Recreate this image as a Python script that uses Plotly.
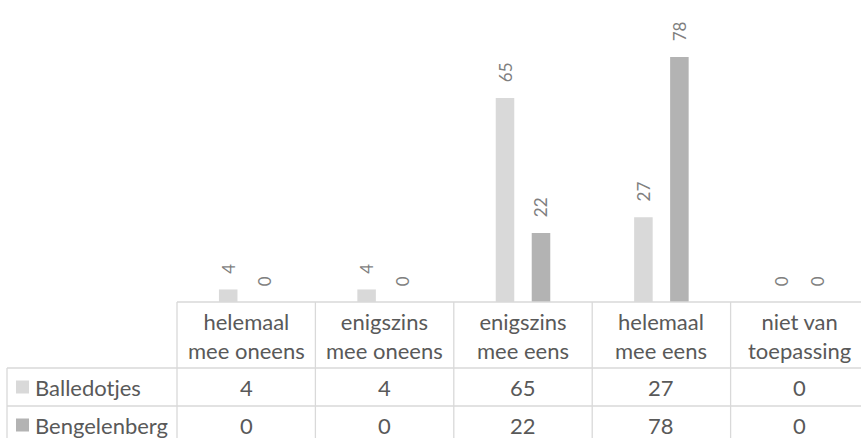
import plotly.graph_objects as go

# ---- data ----
categories = ["helemaal<br>mee oneens", "enigszins<br>mee oneens", "enigszins<br>mee eens",
              "helemaal<br>mee eens", "niet van<br>toepassing"]
series_names = ["Balledotjes", "Bengelenberg"]
balledotjes = [4, 4, 65, 27, 0]
bengelenberg = [0, 0, 22, 78, 0]
series_values = [balledotjes, bengelenberg]

# ---- styles ----
colors = ["#d9d9d9", "#b3b3b3"]
FONT = "Lato"
TSIZE = 22
W, H = 861, 438
PLOT_L, BASE_Y = 177, 302          # pixels
COL_W = 138.4                       # pixel width of one category
X0 = -0.5
X1 = X0 + (W - PLOT_L) / COL_W
Y1 = BASE_Y / 3.14                  # 3.14 px per unit
ROW_Y = [302, 368, 406, 444]        # table row boundaries (px)
TABLE_L = 7
GRID = "#d9d9d9"
TXT = "#595959"

def px(v):      # pixel -> paper x
    return v / W

def py(v):      # pixel -> paper y
    return 1 - v / H

def xdata_to_paper(v):
    return px(PLOT_L + (v - X0) * COL_W)

x_idx = list(range(len(categories)))

fig = go.Figure()
for name, vals, col in zip(series_names, series_values, colors):
    fig.add_trace(go.Bar(
        x=x_idx, y=vals, name=name,
        marker=dict(color=col, line=dict(width=0)),
        texttemplate="\u2003%{y}", textposition="outside", textangle=-90,
        constraintext="none", cliponaxis=False,
        textfont=dict(family=FONT, size=17, color="#7f7f7f"),
    ))

shapes = []
line = dict(color=GRID, width=1.3)
# horizontal table lines
shapes.append(dict(type="line", xref="paper", yref="paper",
                   x0=px(PLOT_L), x1=1, y0=py(ROW_Y[0]), y1=py(ROW_Y[0]), line=line))
for ry in ROW_Y[1:]:
    shapes.append(dict(type="line", xref="paper", yref="paper",
                       x0=px(TABLE_L), x1=1, y0=py(ry), y1=py(ry), line=line))
# vertical lines
shapes.append(dict(type="line", xref="paper", yref="paper",
                   x0=px(TABLE_L), x1=px(TABLE_L), y0=py(ROW_Y[1]), y1=py(H + 5), line=line))
for k in range(len(categories) + 1):
    xv = xdata_to_paper(k - 0.5)
    shapes.append(dict(type="line", xref="paper", yref="paper",
                       x0=xv, x1=xv, y0=py(ROW_Y[0]), y1=py(H + 5), line=line))

annotations = []
# header row
hy = (ROW_Y[0] + ROW_Y[1]) / 2
for i, c in enumerate(categories):
    annotations.append(dict(text=c, x=xdata_to_paper(i), y=py(hy + 1), xref="paper", yref="paper",
                            showarrow=False, xanchor="center", yanchor="middle",
                            font=dict(family=FONT, size=TSIZE, color=TXT)))
# data rows
for r, (name, vals, col) in enumerate(zip(series_names, series_values, colors)):
    cy = (ROW_Y[r + 1] + ROW_Y[r + 2]) / 2
    shapes.append(dict(type="rect", xref="paper", yref="paper",
                       x0=px(16), x1=px(29), y0=py(cy - 6.5), y1=py(cy + 6.5),
                       fillcolor=col, line=dict(width=0)))
    annotations.append(dict(text=name, x=px(33), y=py(cy), xref="paper", yref="paper",
                            showarrow=False, xanchor="left", yanchor="middle",
                            font=dict(family=FONT, size=TSIZE, color=TXT)))
    for i, v in enumerate(vals):
        annotations.append(dict(text=str(v), x=xdata_to_paper(i), y=py(cy), xref="paper", yref="paper",
                                showarrow=False, xanchor="center", yanchor="middle",
                                font=dict(family=FONT, size=TSIZE, color=TXT)))

fig.update_layout(
    width=W, height=H,
    margin=dict(l=0, r=0, t=0, b=0),
    paper_bgcolor="white", plot_bgcolor="white",
    showlegend=False,
    barmode="group", bargap=0.48, bargroupgap=0.485,
    xaxis=dict(domain=[PLOT_L / W, 1], range=[X0, X1], visible=False, fixedrange=True),
    yaxis=dict(domain=[1 - BASE_Y / H, 1], range=[0, Y1], visible=False, fixedrange=True),
    shapes=shapes, annotations=annotations,
)

fig.write_html("out.html", config={"displayModeBar": False},
               post_script="document.body.style.margin='0';document.body.style.padding='0';"
                           "document.body.style.overflow='hidden';")
